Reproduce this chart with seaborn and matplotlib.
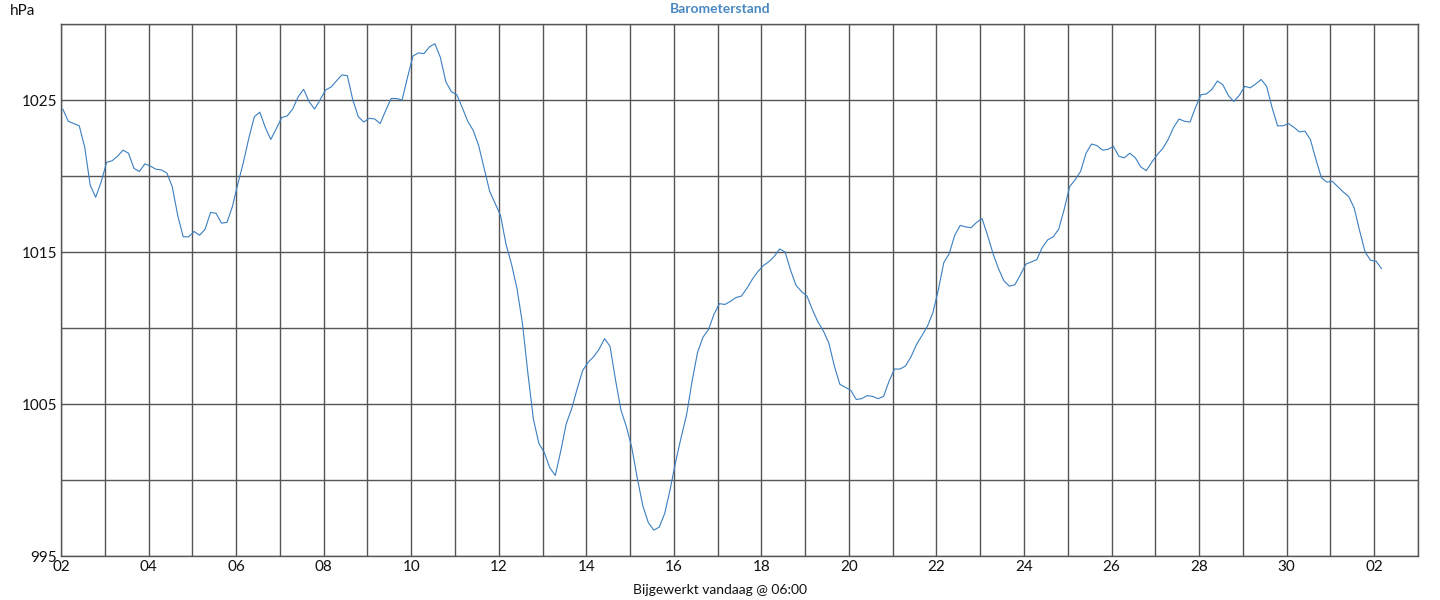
import numpy as np
import pandas as pd
import matplotlib.pyplot as plt
import matplotlib.dates as mdates
import seaborn as sns

# 3-hourly barometer readings (hPa)
week1 = [1024.4, 1023.6, 1023.45, 1023.3, 1021.9, 1019.4, 1018.6, 1019.6,
         1020.9, 1021.0, 1021.3, 1021.7, 1021.5, 1020.5, 1020.3, 1020.8,
         1020.65, 1020.45, 1020.4, 1020.2, 1019.3, 1017.4, 1016.0, 1016.0,
         1016.35, 1016.1, 1016.5, 1017.6, 1017.55, 1016.9, 1016.95, 1018.0,
         1019.5, 1020.9, 1022.5, 1023.9, 1024.2, 1023.2, 1022.4, 1023.1,
         1023.85, 1023.95, 1024.4]
week2 = [1025.2, 1025.7, 1024.9, 1024.4, 1025.0, 1025.65, 1025.85, 1026.25,
         1026.65, 1026.6, 1025.0, 1023.9, 1023.55, 1023.8, 1023.75, 1023.45,
         1024.3, 1025.1, 1025.1, 1025.0, 1026.5, 1027.9, 1028.1, 1028.05,
         1028.5, 1028.7, 1027.8, 1026.2, 1025.55, 1025.35, 1024.5, 1023.6,
         1023.0, 1022.0, 1020.5, 1019.0, 1018.2, 1017.4]
week3 = [1015.5, 1014.2, 1012.6, 1010.3, 1007.0, 1004.0, 1002.4, 1001.8,
         1000.8, 1000.3, 1001.9, 1003.7, 1004.7, 1006.0, 1007.2, 1007.75,
         1008.1, 1008.6, 1009.3, 1008.8, 1006.6, 1004.6, 1003.5, 1002.1,
         1000.1, 998.3, 997.2, 996.7, 996.9, 997.8, 999.4, 1001.2,
         1002.8, 1004.3, 1006.5, 1008.4, 1009.4, 1009.9, 1010.9, 1011.6,
         1011.55, 1011.75, 1012.0, 1012.1, 1012.6, 1013.2, 1013.7, 1014.1,
         1014.35, 1014.7, 1015.2, 1015.0, 1013.8, 1012.8, 1012.4, 1012.1,
         1011.2, 1010.4, 1009.8, 1009.0, 1007.5, 1006.3, 1006.1, 1005.9,
         1005.3, 1005.35, 1005.55, 1005.5, 1005.35, 1005.5, 1006.5, 1007.3,
         1007.3, 1007.5, 1008.1, 1008.9, 1009.5, 1010.1, 1011.0, 1012.5]
week4 = [1014.3, 1014.9, 1016.1, 1016.75, 1016.65, 1016.6, 1016.95, 1017.2,
         1016.1, 1014.9, 1013.9, 1013.1, 1012.75, 1012.85, 1013.5, 1014.2,
         1014.35, 1014.5, 1015.3, 1015.8, 1016.0, 1016.5, 1017.8, 1019.3,
         1019.75, 1020.3, 1021.5, 1022.1, 1022.0, 1021.7, 1021.75, 1021.95,
         1021.3, 1021.2, 1021.5, 1021.2, 1020.6, 1020.35, 1020.9, 1021.4,
         1021.8, 1022.4, 1023.2, 1023.75, 1023.6, 1023.55, 1024.5, 1025.35,
         1025.4, 1025.7, 1026.25, 1026.0, 1025.3, 1024.9, 1025.3, 1025.9,
         1025.8, 1026.05, 1026.35, 1025.9, 1024.5, 1023.3, 1023.3, 1023.45,
         1023.2, 1022.9, 1022.95, 1022.4, 1021.1, 1019.9, 1019.6, 1019.65,
         1019.3, 1018.95, 1018.65, 1017.9, 1016.4, 1015.0, 1014.45, 1014.4,
         1013.9]

pressure = week1 + week2 + week3 + week4
times = pd.date_range("2024-06-02 01:00", periods=len(pressure), freq="3h")
df = pd.DataFrame({"tijd": times, "hPa": pressure})

y_ticks = [995, 1005, 1015, 1025]

sns.set_theme(style="white")
plt.rcParams['font.family'] = ['Lato', 'DejaVu Sans']

fig = plt.figure(figsize=(14.4, 6), dpi=100)
ax = fig.add_axes([61 / 1440, 44 / 600, 1357 / 1440, 532 / 600])

sns.lineplot(data=df, x="tijd", y="hPa", ax=ax, color="#3a7fc0", linewidth=0.8)

ax.set_xlim(pd.Timestamp("2024-06-02"), pd.Timestamp("2024-07-03"))
ax.set_ylim(995, 1030)

# labels every 2 days, gridline every day
ax.set_xticks(pd.date_range("2024-06-02", "2024-07-02", freq="2D"))
ax.xaxis.set_major_formatter(mdates.DateFormatter("%d"))
ax.xaxis.set_minor_locator(mdates.DayLocator())
ax.set_yticks(y_ticks)
ax.set_yticks(range(995, 1031, 5), minor=True)

ax.grid(True, which="both", color="#555555", linewidth=1.0)
ax.set_axisbelow(True)
for s in ax.spines.values():
    s.set_color("#555555")
    s.set_linewidth(1.0)

ax.tick_params(which="both", length=0, labelsize=11, colors="#111111", pad=3)
# label is centred on the figure, not on the axes
ax.set_xlabel("Bijgewerkt vandaag @ 06:00", fontsize=10, color="#111111",
              labelpad=7, x=(720 - 61) / 1357)
ax.set_ylabel("")

fig.text(10 / 1440, 1 - 11 / 600, "hPa", fontsize=11, color="#111111", va="center", ha="left")
fig.text(720 / 1440, 1 - 9 / 600, "Barometerstand", fontsize=10, fontweight="bold",
         color="#4a88c2", va="center", ha="center")

fig.savefig("out.png", dpi=100)
